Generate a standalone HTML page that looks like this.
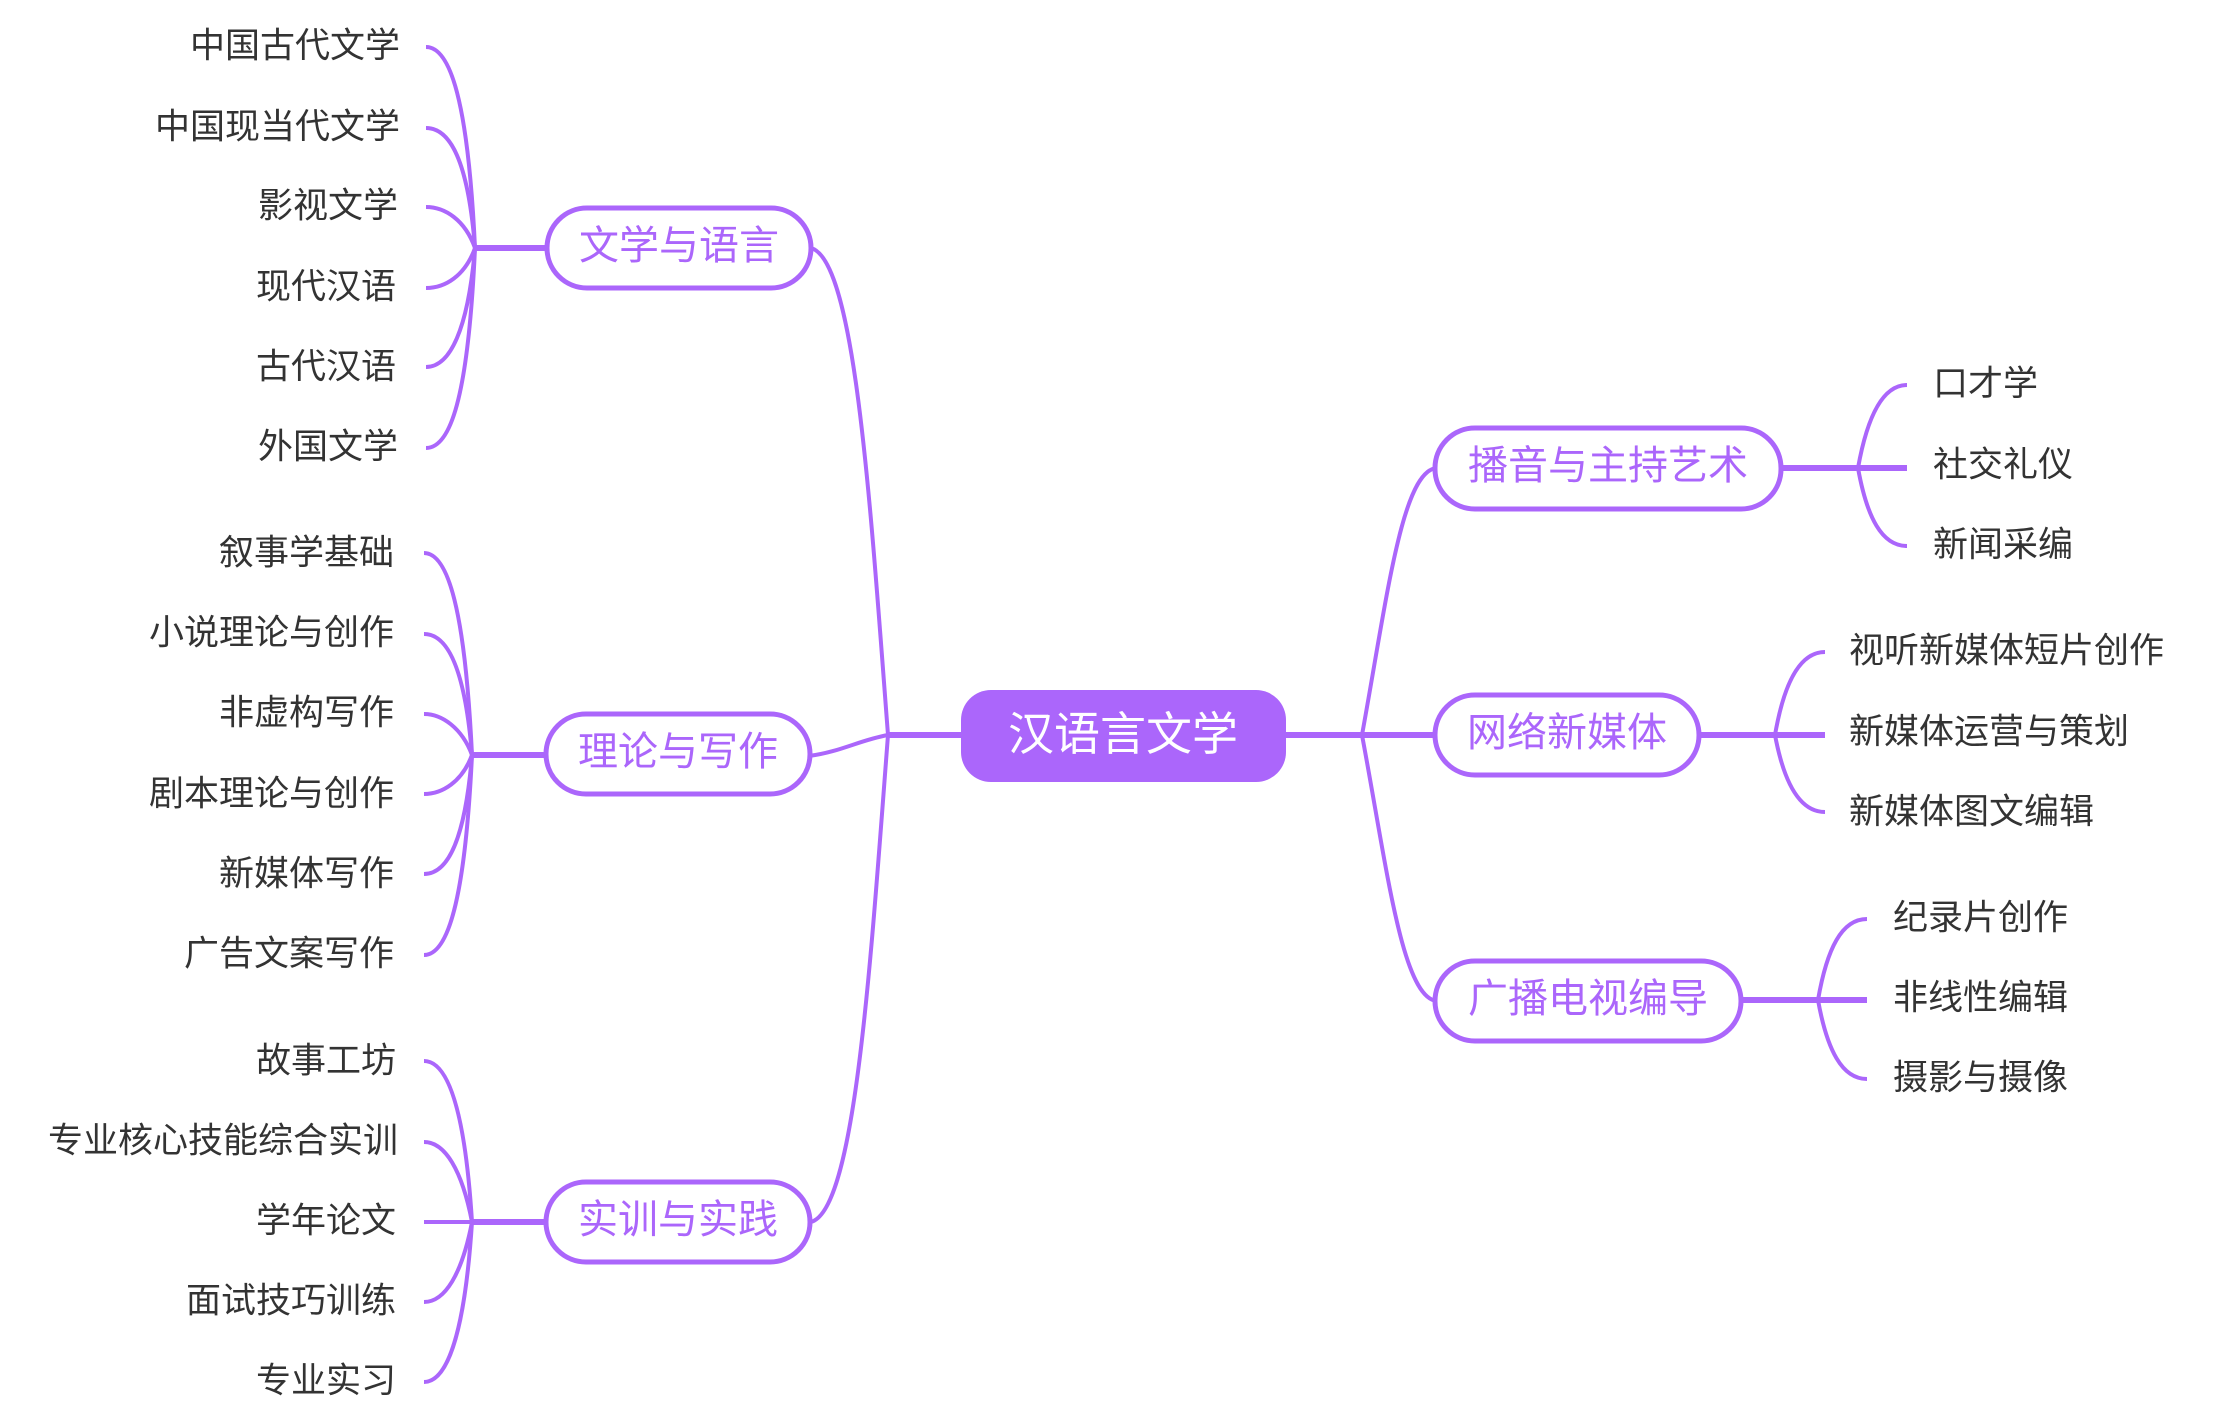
<!DOCTYPE html>
<html><head><meta charset="utf-8"><style>
html,body{margin:0;padding:0;background:#fff;}
svg{display:block;}
text{font-family:"Liberation Sans","Noto Sans CJK SC",sans-serif;}
.leaf{font-size:35px;fill:#333;dominant-baseline:central;}
.mid{font-size:40px;fill:#ab66fb;dominant-baseline:central;text-anchor:middle;}
.c{fill:none;stroke:#ab66fb;stroke-width:4;}
.t{fill:none;stroke:#ab66fb;stroke-width:6;}
.box{fill:#fff;stroke:#ab66fb;stroke-width:5;}
</style></head><body>
<svg width="2213" height="1426" viewBox="0 0 2213 1426" xmlns="http://www.w3.org/2000/svg">
<!-- trunk -->
<line class="t" x1="888" y1="735" x2="965" y2="735"/>
<line class="t" x1="1285" y1="735" x2="1362" y2="735"/>
<!-- left main curves -->
<path class="c" d="M888 735 C870 500 855 260 811 248"/>
<path class="c" d="M888 735 C860 740 840 752 809 756"/>
<path class="c" d="M888 735 C870 970 855 1210 811 1222"/>
<g transform="translate(-8,-2)">
<!-- right main curves -->
<path class="c" d="M1370 737 C1395 600 1410 472 1445 470"/>
<path class="t" d="M1370 737 L1445 737"/>
<path class="c" d="M1370 737 C1395 870 1410 1000 1445 1003"/>
<!-- right group 1 -->
<line class="t" x1="1789" y1="470" x2="1915" y2="470"/>
<path class="c" d="M1866 470 C1875 420 1890 387 1915 387"/>
<path class="c" d="M1866 470 C1875 520 1890 548 1915 548"/>
<!-- right group 2 -->
<line class="t" x1="1707" y1="737" x2="1833" y2="737"/>
<path class="c" d="M1783 737 C1792 685 1808 654 1833 654"/>
<path class="c" d="M1783 737 C1792 785 1808 814 1833 814"/>
<!-- right group 3 -->
<line class="t" x1="1749" y1="1002" x2="1875" y2="1002"/>
<path class="c" d="M1826 1002 C1835 950 1850 921 1875 921"/>
<path class="c" d="M1826 1002 C1835 1052 1850 1081 1875 1081"/>
<rect class="box" x="1443" y="430" width="346" height="81" rx="40"/>
<text class="mid" x="1616" y="468">播音与主持艺术</text>
<rect class="box" x="1443" y="697" width="264" height="80" rx="40"/>
<text class="mid" x="1575" y="735">网络新媒体</text>
<rect class="box" x="1443" y="963" width="306" height="80" rx="40"/>
<text class="mid" x="1596" y="1001">广播电视编导</text>
<g class="leaf" text-anchor="start">
<text x="1941" y="386">口才学</text>
<text x="1941" y="467">社交礼仪</text>
<text x="1941" y="547">新闻采编</text>
<text x="1857" y="653">视听新媒体短片创作</text>
<text x="1857" y="734">新媒体运营与策划</text>
<text x="1857" y="814">新媒体图文编辑</text>
<text x="1901" y="920">纪录片创作</text>
<text x="1901" y="1000">非线性编辑</text>
<text x="1901" y="1080">摄影与摄像</text>
</g>
</g>
<!-- group 1 -->
<line class="t" x1="475" y1="248" x2="547" y2="248"/>
<path class="c" d="M475 248 C468 100 450 47 426 47"/>
<path class="c" d="M475 248 C468 160 450 128 426 128"/>
<path class="c" d="M475 248 C465 220 445 207 426 207"/>
<path class="c" d="M475 248 C465 276 445 288 426 288"/>
<path class="c" d="M475 248 C468 330 450 367 426 367"/>
<path class="c" d="M475 248 C468 400 450 448 426 448"/>
<!-- group 2 -->
<line class="t" x1="472" y1="755" x2="546" y2="755"/>
<path class="c" d="M472 755 C465 610 448 553 424 553"/>
<path class="c" d="M472 755 C465 670 448 634 424 634"/>
<path class="c" d="M472 755 C462 728 442 714 424 714"/>
<path class="c" d="M472 755 C462 782 442 794 424 794"/>
<path class="c" d="M472 755 C465 840 448 874 424 874"/>
<path class="c" d="M472 755 C465 900 448 955 424 955"/>
<!-- group 3 -->
<line class="t" x1="472" y1="1222" x2="546" y2="1222"/>
<path class="c" d="M472 1222 C465 1110 448 1061 424 1061"/>
<path class="c" d="M472 1222 C462 1170 445 1142 424 1142"/>
<line class="c" x1="424" y1="1222" x2="472" y2="1222"/>
<path class="c" d="M472 1222 C462 1274 445 1302 424 1302"/>
<path class="c" d="M472 1222 C465 1330 448 1382 424 1382"/>
<!-- boxes -->
<rect class="box" x="547" y="208" width="264" height="80" rx="40"/>
<text class="mid" x="679" y="246">文学与语言</text>
<rect class="box" x="546" y="714" width="264" height="80" rx="40"/>
<text class="mid" x="678" y="752">理论与写作</text>
<rect class="box" x="546" y="1182" width="264" height="80" rx="40"/>
<text class="mid" x="678" y="1220">实训与实践</text>
<rect x="961" y="690" width="325" height="92" rx="30" fill="#ab66fb"/>
<text x="1123" y="734" font-size="46" fill="#fff" text-anchor="middle" dominant-baseline="central">汉语言文学</text>
<!-- leaves left -->
<g class="leaf" text-anchor="end">
<text x="400" y="46">中国古代文学</text>
<text x="400" y="127">中国现当代文学</text>
<text x="398" y="206">影视文学</text>
<text x="396" y="287">现代汉语</text>
<text x="396" y="367">古代汉语</text>
<text x="398" y="447">外国文学</text>
<text x="394" y="553">叙事学基础</text>
<text x="394" y="633">小说理论与创作</text>
<text x="394" y="713">非虚构写作</text>
<text x="394" y="794">剧本理论与创作</text>
<text x="394" y="874">新媒体写作</text>
<text x="394" y="954">广告文案写作</text>
<text x="396" y="1061">故事工坊</text>
<text x="398" y="1141">专业核心技能综合实训</text>
<text x="396" y="1221">学年论文</text>
<text x="396" y="1301">面试技巧训练</text>
<text x="396" y="1381">专业实习</text>
</g>
</svg>
</body></html>
